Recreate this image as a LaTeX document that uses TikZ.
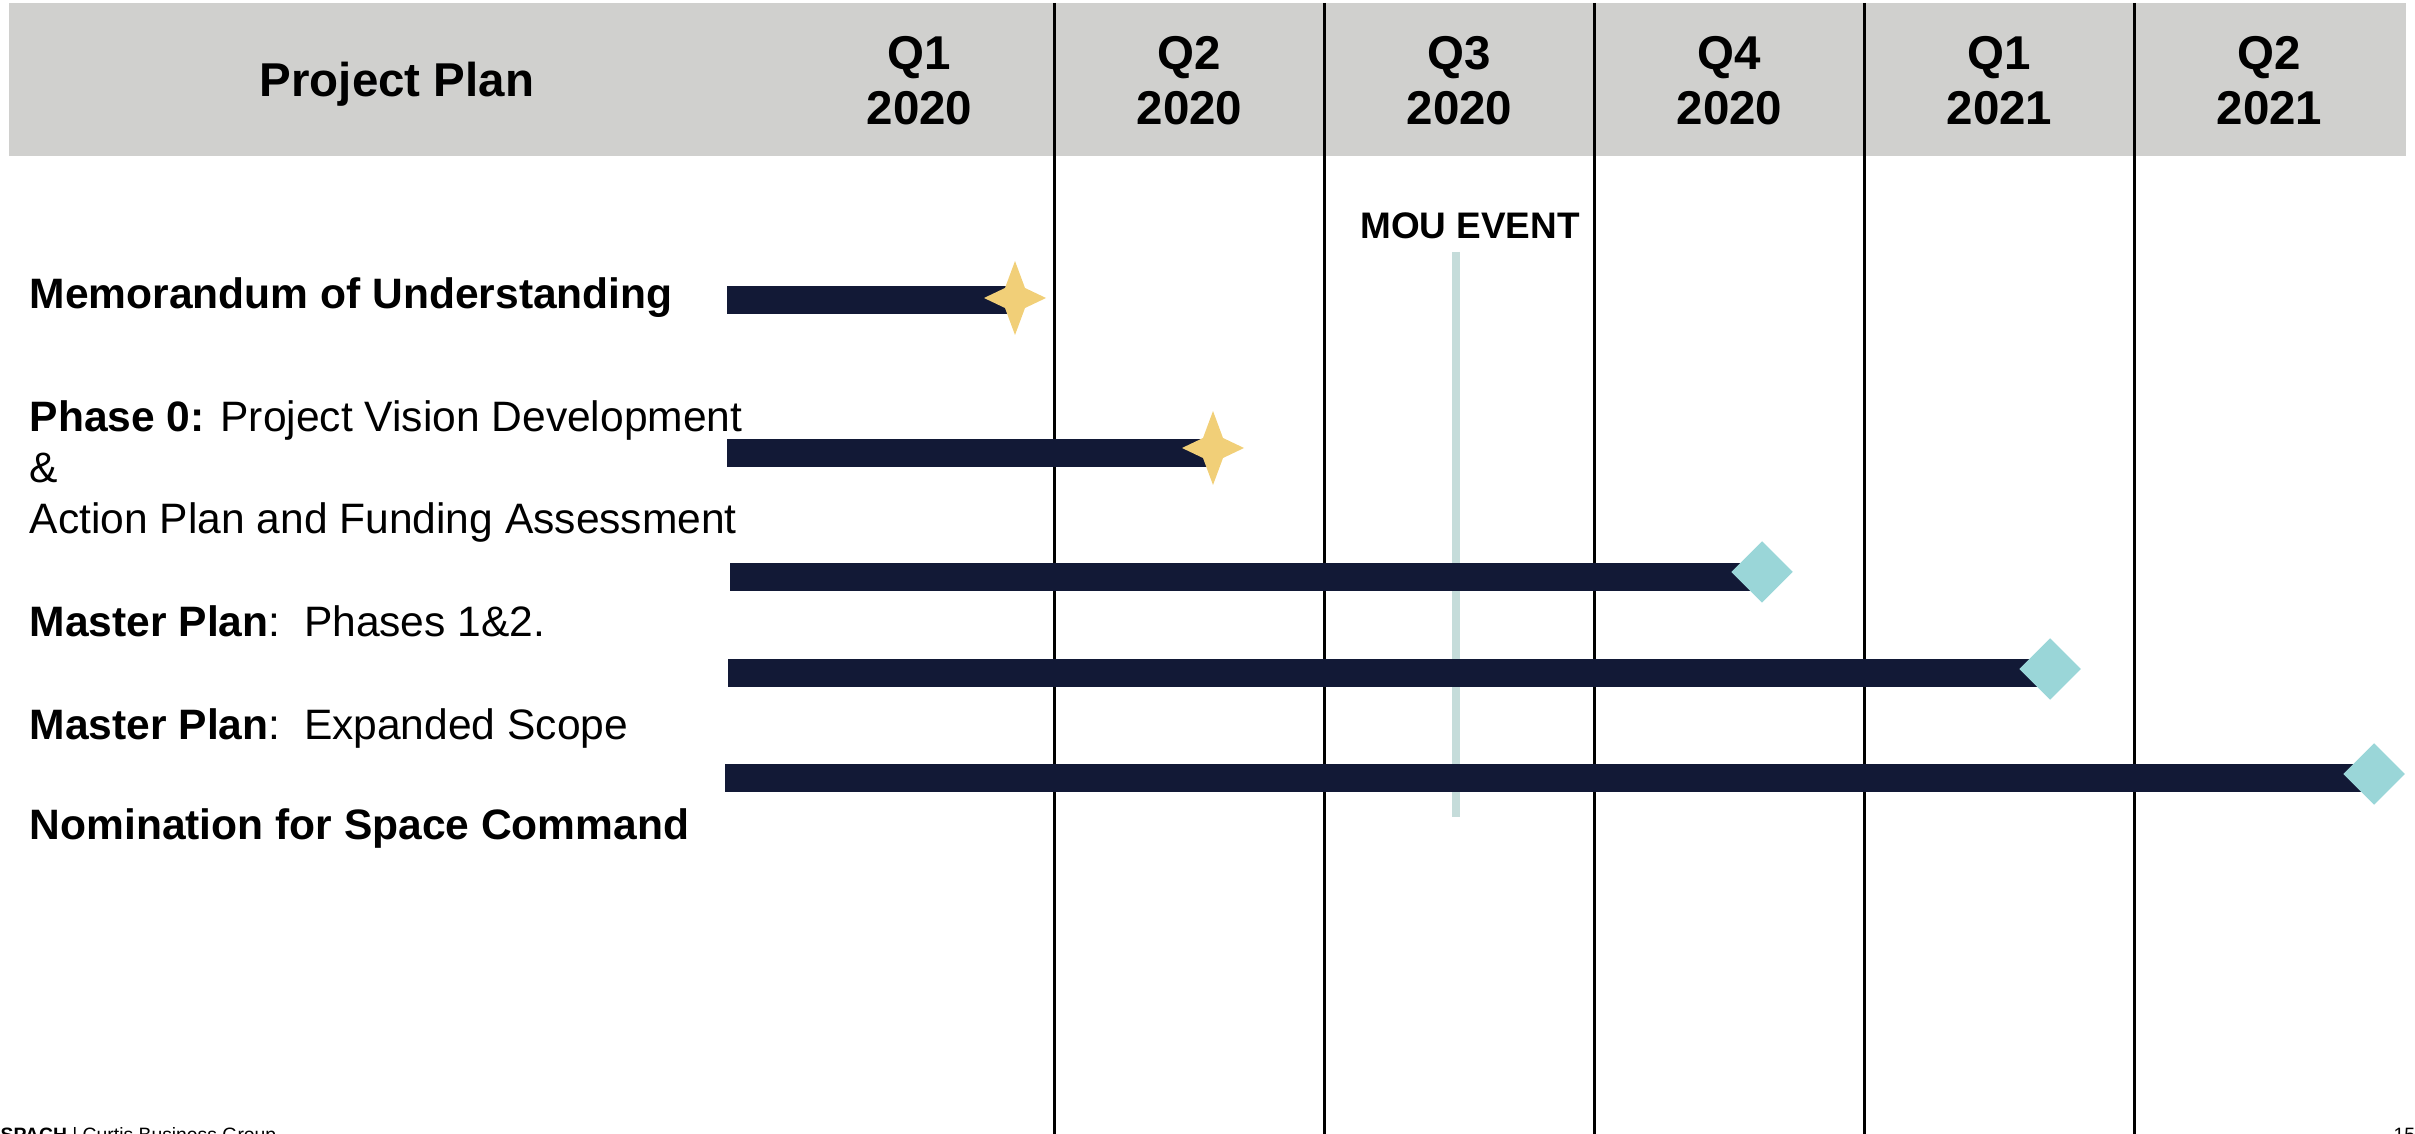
\documentclass[tikz,border=0pt]{standalone}
\usepackage{fontspec}
\setmainfont{Liberation Sans}
\usetikzlibrary{shapes.geometric}
\definecolor{barcol}{RGB}{18,25,54}
\definecolor{hdrgray}{RGB}{208,208,206}
\definecolor{moucol}{RGB}{197,220,218}
\definecolor{diacol}{RGB}{154,214,216}
\definecolor{starcol}{RGB}{241,207,120}
\tikzset{
  hdr/.style={font=\fontsize{13.5}{15.65}\selectfont\bfseries, inner sep=0pt, align=center},
  lbl/.style={font=\fontsize{12.1}{14.5}\selectfont, inner sep=0pt, anchor=base west},
  gridline/.style={line width=0.7pt, black},
  barline/.style={line width=0.28cm, barcol},
  mouline/.style={line width=0.08cm, moucol},
  diam/.style={diamond, fill=diacol, inner sep=0pt, minimum width=0.62cm, minimum height=0.62cm},
  starmark/.pic={\fill[starcol] (0,-37) -- (10,-10) -- (31,0) -- (10,10) -- (0,37) -- (-10,10) -- (-31,0) -- (-10,-10) -- cycle;},
  foot/.style={font=\fontsize{5.5}{6}\selectfont, inner sep=0pt}
}
\begin{document}
\begin{tikzpicture}[x=0.01cm, y=-0.01cm]
\useasboundingbox (0,0) rectangle (2415,1134);
\clip (0,0) rectangle (2415,1134);
% header band
\fill[hdrgray] (9,3) rectangle (2406,156);
% grid lines
\foreach \i/\x in {1/1054.5,2/1324.5,3/1594.5,4/1864.5,5/2134.5}{
  \coordinate (gt\i) at (\x,3);
  \coordinate (gb\i) at (\x,1134);
  \draw[gridline] (gt\i) -- (gb\i);
}
% header texts
\node[hdr, anchor=base] (title) at (397,97) {Project Plan};
\node[hdr] (q1a) at (919.5,81) {Q1\\2020};
\node[hdr] (q2a) at (1189.5,81) {Q2\\2020};
\node[hdr] (q3a) at (1459.5,81) {Q3\\2020};
\node[hdr] (q4a) at (1729.5,81) {Q4\\2020};
\node[hdr] (q1b) at (1999.5,81) {Q1\\2021};
\node[hdr] (q2b) at (2269.5,81) {Q2\\2021};
% MOU event
\coordinate (mout) at (1456,252);
\coordinate (moub) at (1456,817);
\draw[mouline] (mout) -- (moub);
\node[inner sep=0pt, anchor=base, font=\fontsize{10.5}{12}\selectfont\bfseries] (mou) at (1470,239) {MOU EVENT};
% bars
\coordinate (s1) at (727,300);  \coordinate (e1) at (1015,300);
\coordinate (s2) at (727,453);  \coordinate (e2) at (1213,453);
\coordinate (s3) at (730,577);  \coordinate (e3) at (1762,577);
\coordinate (s4) at (728,673);  \coordinate (e4) at (2050,673);
\coordinate (s5) at (725,778);  \coordinate (e5) at (2374,778);
\draw[barline] (s1) -- (e1);
\draw[barline] (s2) -- (e2);
\draw[barline] (s3) -- (e3);
\draw[barline] (s4) -- (e4);
\draw[barline] (s5) -- (e5);
% milestones
\coordinate (m1) at (1015,298);
\coordinate (m2) at (1213,448);
\pic at (m1) {starmark};
\pic at (m2) {starmark};
\node[diam] (m3) at (1762,572) {};
\node[diam] (m4) at (2050,669) {};
\node[diam] (m5) at (2374,774) {};
% labels
\node[lbl] (l1) at (29,309) {\textbf{Memorandum of Understanding}};
\node[lbl] (l2a) at (29,432) {\textbf{Phase 0:} Project Vision Development};
\node[lbl] (l2b) at (29,483) {\&};
\node[lbl] (l2c) at (29,534) {Action Plan and Funding Assessment};
\node[lbl] (l3) at (29,637) {\textbf{Master Plan}:\ \ Phases 1\&2.};
\node[lbl] (l4) at (29,739) {\textbf{Master Plan}:\ \ Expanded Scope};
\node[lbl] (l5) at (29,840) {\textbf{Nomination for Space Command}};
% footer (clipped at page edge, as in the reference)
\node[foot, anchor=north west] (ftl) at (0,1127) {\textbf{SPACH} | Curtis Business Group};
\node[foot, anchor=north west] (ftr) at (2393,1127) {15};
\end{tikzpicture}
\end{document}
